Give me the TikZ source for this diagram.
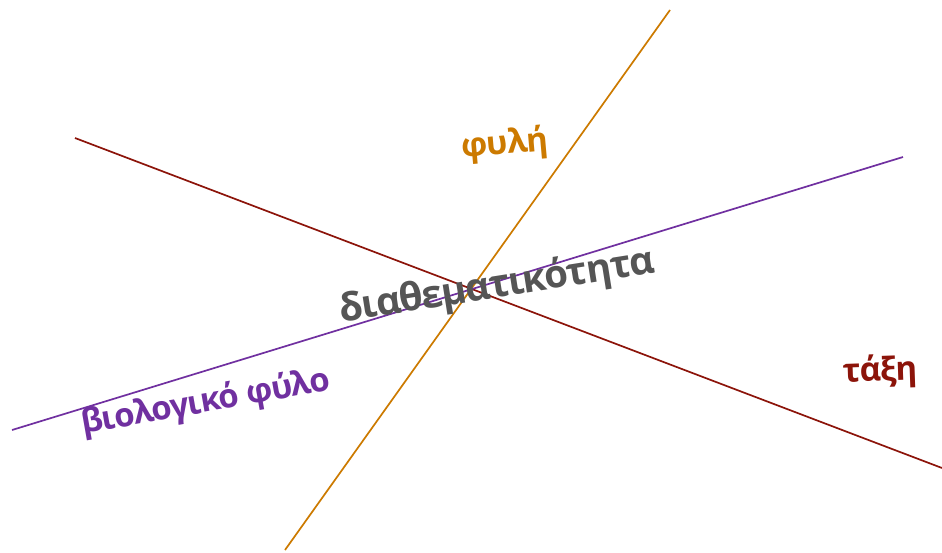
\documentclass[tikz,border=0pt]{standalone}
\usepackage{fontspec}
\setmainfont[LetterSpace=-3]{Open Sans}
\definecolor{axisorange}{RGB}{204,122,0}
\definecolor{axisred}{RGB}{140,20,10}
\definecolor{axispurple}{RGB}{112,48,160}
\definecolor{centergray}{RGB}{85,85,85}

\begin{document}
\begin{tikzpicture}[x=1pt, y=-1pt,
    axis/.style={line width=1.7pt},
    label/.style={font=\fontsize{33}{33}\selectfont\bfseries, inner sep=0pt}
]
    \useasboundingbox (0,0) rectangle (942,552);

    % end points of the three axes
    \coordinate (phylA) at (285,550);
    \coordinate (phylB) at (670,10);
    \coordinate (taxiA) at (75,138);
    \coordinate (taxiB) at (942,468);
    \coordinate (fyloA) at (12,430);
    \coordinate (fyloB) at (903,157);

    % axes
    \draw[axis, axisorange] (phylA) -- (phylB);
    \draw[axis, axisred] (taxiA) -- (taxiB);
    \draw[axis, axispurple] (fyloA) -- (fyloB);

    % labels
    \node[label, text=axisorange, rotate=5] (phyli) at (505,145) {φυλή};
    \node[label, text=axisred, rotate=2] (taxi) at (880,372) {τάξη};
    \node[label, text=axispurple, rotate=10] (fylo) at (206,403) {βιολογικό φύλο};
    \node[label, text=centergray, rotate=9, font=\fontsize{38.5}{38.5}\selectfont\bfseries] (diath) at (497,287) {διαθεματικότητα};
\end{tikzpicture}
\end{document}
